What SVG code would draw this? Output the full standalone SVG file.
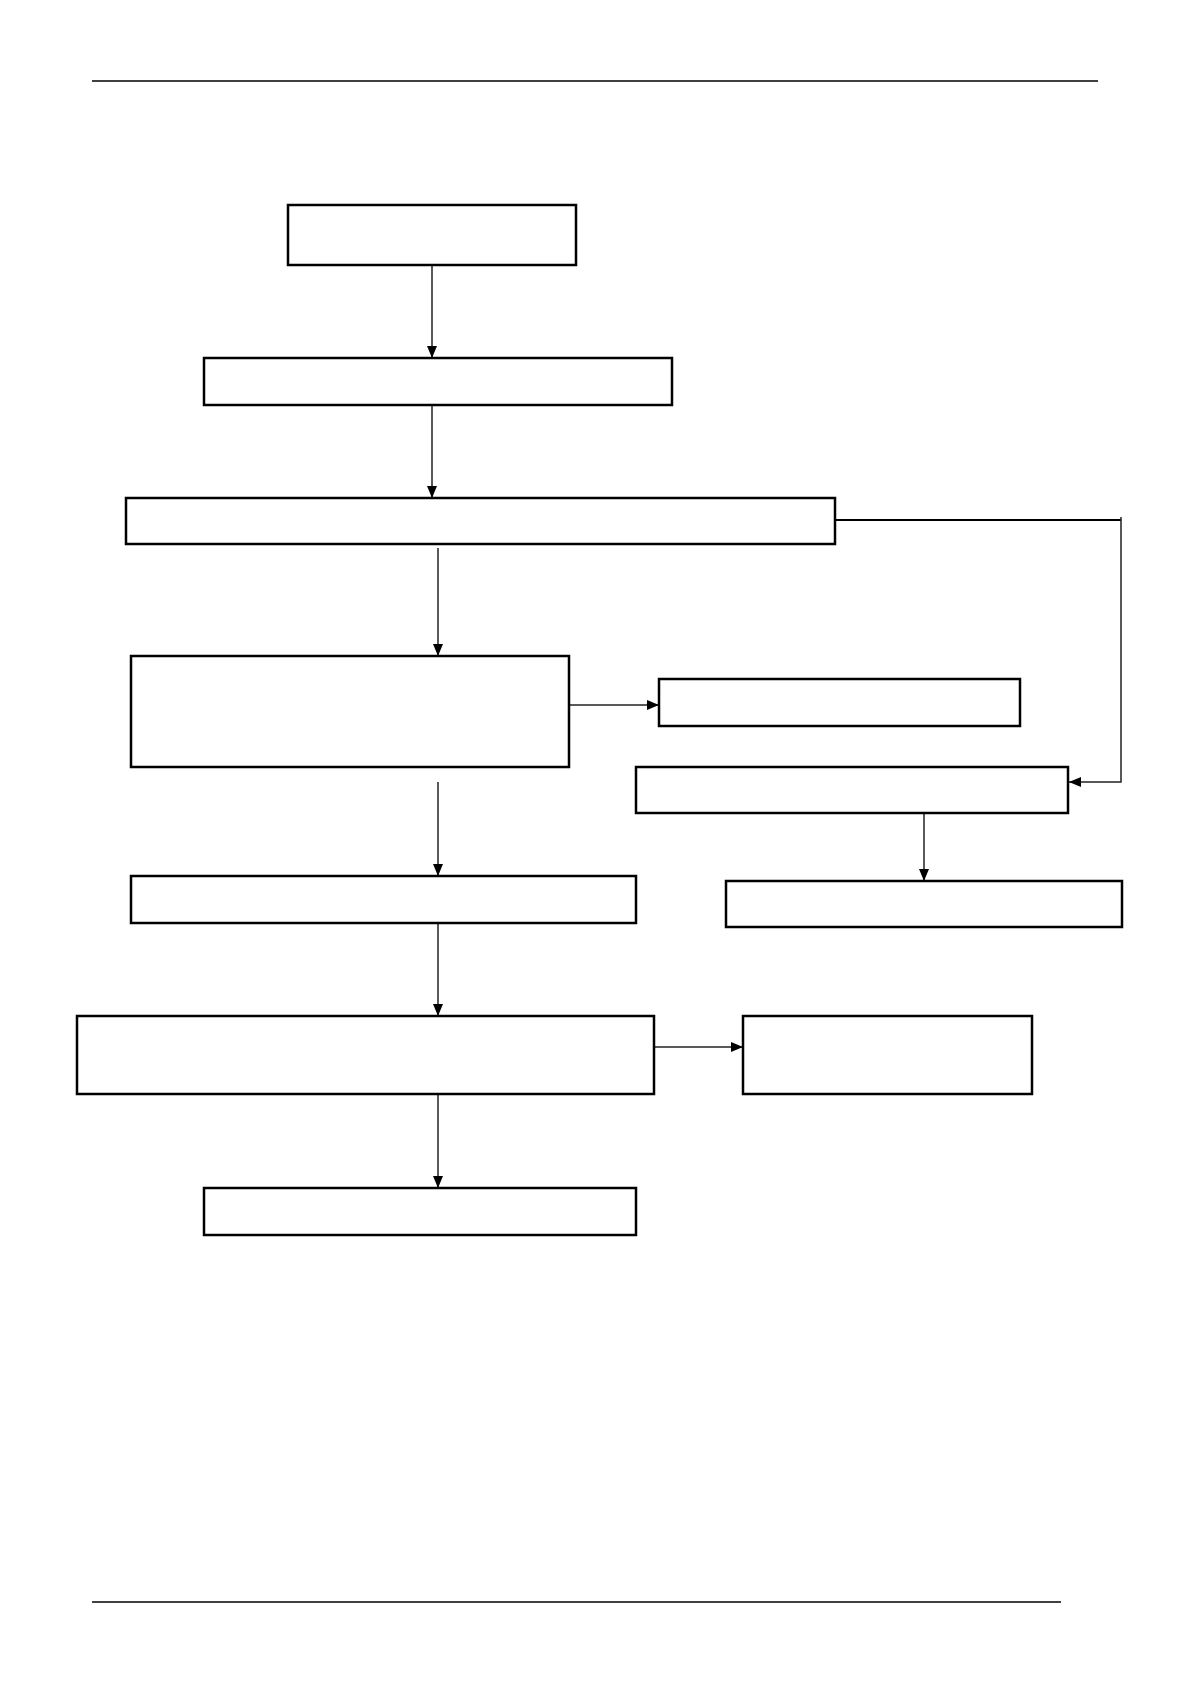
<svg xmlns="http://www.w3.org/2000/svg" width="1190" height="1684" viewBox="0 0 1190 1684">
<style>
.box{fill:#fff;stroke:#000;stroke-width:2.5}
.rule{stroke:#000;stroke-width:1.5}
.con{fill:none;stroke:#222;stroke-width:1.5}
</style>
<defs>
<marker id="ah" viewBox="0 0 12 10" refX="12" refY="5" markerWidth="12" markerHeight="10" markerUnits="userSpaceOnUse" orient="auto">
<path d="M0,0 L12,5 L0,10 Z" fill="#000"/>
</marker>
</defs>
<rect width="1190" height="1684" fill="#fff"/>
<line class="rule" x1="92" y1="81" x2="1098" y2="81"/>
<line class="rule" x1="92" y1="1602" x2="1061" y2="1602"/>
<g id="connectors">
<line class="con" x1="432" y1="265" x2="432" y2="358" marker-end="url(#ah)"/>
<line class="con" x1="432" y1="405" x2="432" y2="498" marker-end="url(#ah)"/>
<polyline class="con" points="835,520 1121,520" style="stroke:#000;stroke-width:2"/>
<polyline class="con" points="1121,517 1121,782 1069,782" marker-end="url(#ah)"/>
<line class="con" x1="438" y1="548" x2="438" y2="656" marker-end="url(#ah)"/>
<line class="con" x1="569" y1="705" x2="659" y2="705" marker-end="url(#ah)"/>
<line class="con" x1="438" y1="782" x2="438" y2="876" marker-end="url(#ah)"/>
<line class="con" x1="924" y1="813" x2="924" y2="881" marker-end="url(#ah)"/>
<line class="con" x1="438" y1="923" x2="438" y2="1016" marker-end="url(#ah)"/>
<line class="con" x1="654" y1="1047" x2="743" y2="1047" marker-end="url(#ah)"/>
<line class="con" x1="438" y1="1094" x2="438" y2="1188" marker-end="url(#ah)"/>
</g>
<g id="n1"><rect class="box" x="288" y="205" width="288" height="60"/></g>
<g id="n2"><rect class="box" x="204" y="358" width="468" height="47"/></g>
<g id="n3"><rect class="box" x="126" y="498" width="709" height="46"/></g>
<g id="n4"><rect class="box" x="131" y="656" width="438" height="111"/></g>
<g id="n5"><rect class="box" x="659" y="679" width="361" height="47"/></g>
<g id="n6"><rect class="box" x="636" y="767" width="432" height="46"/></g>
<g id="n7"><rect class="box" x="131" y="876" width="505" height="47"/></g>
<g id="n8"><rect class="box" x="726" y="881" width="396" height="46"/></g>
<g id="n9"><rect class="box" x="77" y="1016" width="577" height="78"/></g>
<g id="n10"><rect class="box" x="743" y="1016" width="289" height="78"/></g>
<g id="n11"><rect class="box" x="204" y="1188" width="432" height="47"/></g>
</svg>
